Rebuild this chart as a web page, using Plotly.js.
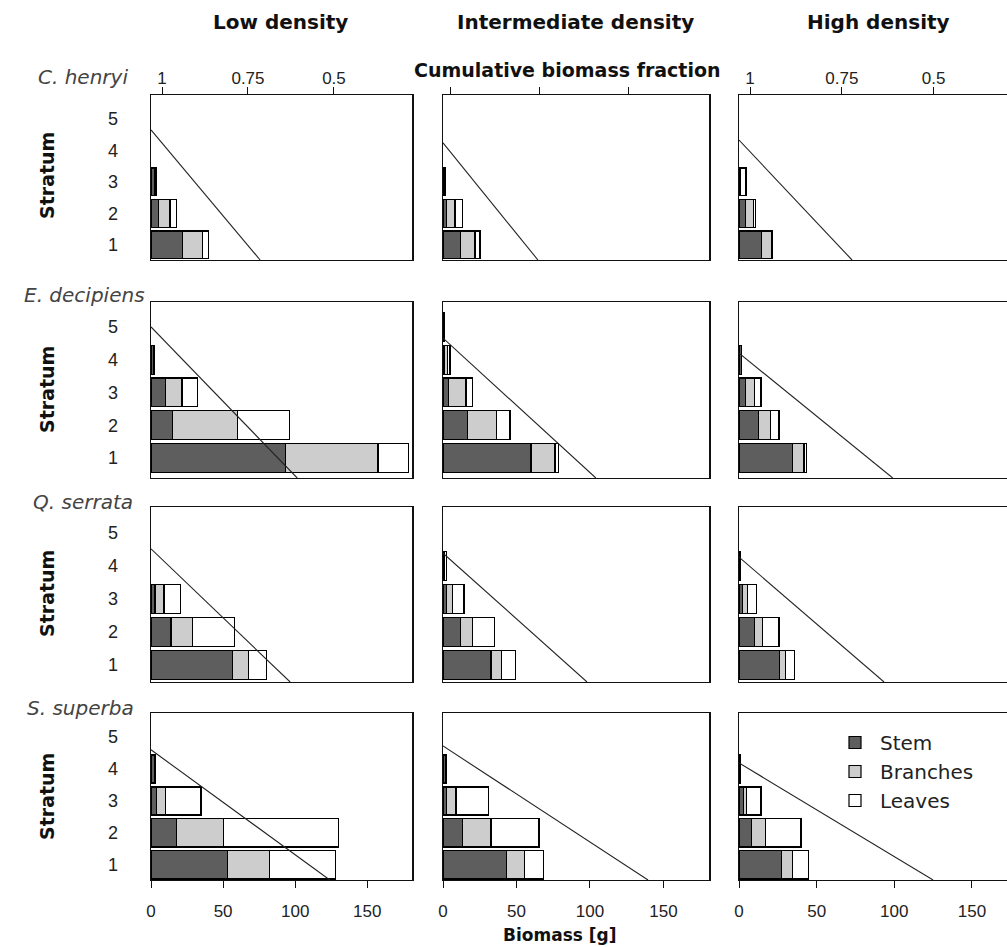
<!DOCTYPE html>
<html><head><meta charset="utf-8">
<script src="https://cdn.plot.ly/plotly-3.0.1.min.js"></script>
<style>html,body{margin:0;padding:0;background:#fff;overflow:hidden}</style>
</head><body><div id="chart" style="width:1007px;height:947px"></div>
<script>
const strata = [1, 2, 3, 4, 5];
const densities = ['Low density', 'Intermediate density', 'High density'];
const species = ['C. henryi', 'E. decipiens', 'Q. serrata', 'S. superba'];
const parts = ['Stem', 'Branches', 'Leaves'];
const xTicks = [0, 50, 100, 150];
const fracTicks = [1, 0.75, 0.5];
const fracTickText = ['1', '0.75', '0.5'];

// biomass [g] per stratum 1..5, one row per density (low, intermediate, high)
const henryiStem      = [[21.7, 5.1, 2.5, 0, 0], [12.0, 2.5, 0.3, 0, 0], [14.6, 4.3, 0.5, 0, 0]];
const henryiBranches  = [[13.9, 8.1, 0.8, 0, 0], [9.8, 5.7, 0.5, 0, 0], [6.4, 4.9, 0.5, 0, 0]];
const henryiLeaves    = [[4.2, 4.6, 0.7, 0, 0], [3.4, 4.8, 1.0, 0, 0], [0.5, 1.5, 3.5, 0, 0]];

const decipiensStem     = [[93.0, 14.8, 10.2, 2.0, 0], [59.9, 16.6, 3.6, 1.0, 1.0], [34.6, 12.4, 4.3, 1.7, 0]];
const decipiensBranches = [[64.4, 45.2, 11.3, 0.2, 0], [16.3, 19.9, 12.0, 2.3, 0], [7.3, 8.0, 5.6, 0, 0]];
const decipiensLeaves   = [[21.3, 36.0, 10.5, 0.1, 0], [2.2, 9.1, 4.6, 1.5, 0], [1.7, 5.4, 4.3, 0, 0]];

const serrataStem     = [[56.7, 13.9, 2.8, 0, 0], [32.7, 12.0, 2.5, 0.5, 0], [26.0, 9.9, 2.1, 1.0, 0]];
const serrataBranches = [[10.9, 15.1, 6.2, 0, 0], [7.2, 8.2, 3.8, 0.7, 0], [4.0, 5.1, 3.2, 0, 0]];
const serrataLeaves   = [[12.3, 28.9, 11.6, 0, 0], [9.5, 14.7, 8.0, 1.3, 0], [5.6, 10.8, 6.1, 0, 0]];

const superbaStem     = [[53.2, 17.8, 4.0, 2.8, 0], [43.3, 13.1, 2.5, 2.0, 0], [27.5, 8.2, 2.8, 0.8, 0]];
const superbaBranches = [[29.0, 32.4, 6.2, 0, 0], [12.0, 19.6, 6.3, 0, 0], [7.1, 9.0, 2.2, 0, 0]];
const superbaLeaves   = [[45.6, 79.8, 24.5, 0, 0], [12.9, 32.6, 22.0, 0, 0], [10.0, 22.7, 9.2, 0, 0]];

// cumulative biomass fraction line: stratum where it leaves x=0, biomass where it meets the panel bottom
const cumStartStratum = [[4.65, 4.24, 4.33], [5.0, 4.66, 4.2], [4.52, 4.39, 4.27], [4.6, 4.72, 4.19]];
const cumEndBiomass   = [[75.7, 64.6, 72.8], [101.4, 104, 99], [96.5, 98, 93.4], [124, 139.5, 125]];

const speciesParts = [
  [henryiStem, henryiBranches, henryiLeaves],
  [decipiensStem, decipiensBranches, decipiensLeaves],
  [serrataStem, serrataBranches, serrataLeaves],
  [superbaStem, superbaBranches, superbaLeaves]
];

// ---- layout geometry (pixels) ----
const W = 1007, H = 947;
const colPx = [[151, 412], [443, 709], [739, 1007]];
const rowPx = [[95, 260], [302, 478], [507, 682], [713, 880]];
const colRange = [[0, 181], [0, 181], [0, 172.6]];
const fracRange = [[1.032, 0.273], [1.022, 0.275], [1.03, 0.30]];
const rowYRange = [[0.52, 5.76], [0.39, 5.76], [0.48, 5.79], [0.53, 5.75]];
const fills = ['#5e5e5e', '#cdcdcd', '#ffffff'];

const tickFont = {family: 'Liberation Sans, Arial, sans-serif', size: 17, color: '#222'};
const traces = [];
const layout = {
  width: W, height: H,
  margin: {l: 0, r: 0, t: 0, b: 0},
  paper_bgcolor: '#fff', plot_bgcolor: '#fff',
  barmode: 'stack',
  showlegend: true,
  legend: {x: 830 / W, y: 1 - 723 / H, xanchor: 'left', yanchor: 'top', itemwidth: 40,
           bgcolor: 'rgba(0,0,0,0)', font: {family: 'DejaVu Sans, sans-serif', size: 20, color: '#222'},
           traceorder: 'normal'},
  annotations: []
};

for (let r = 0; r < 4; r++) {
  for (let c = 0; c < 3; c++) {
    const n = r * 3 + c + 1;
    const xa = 'x' + (n === 1 ? '' : n), ya = 'y' + (n === 1 ? '' : n);
    const xKey = 'xaxis' + (n === 1 ? '' : n), yKey = 'yaxis' + (n === 1 ? '' : n);
    layout[xKey] = {
      domain: [colPx[c][0] / W, colPx[c][1] / W],
      range: colRange[c], anchor: ya,
      showgrid: false, zeroline: false, showline: true, linecolor: '#111', linewidth: 1, mirror: true,
      tickvals: xTicks, ticks: r === 3 ? 'outside' : '', ticklen: 7, tickcolor: '#111',
      showticklabels: r === 3, tickfont: tickFont, ticklabelstandoff: 9, fixedrange: true
    };
    layout[yKey] = {
      domain: [1 - rowPx[r][1] / H, 1 - rowPx[r][0] / H],
      range: rowYRange[r], anchor: xa,
      showgrid: false, zeroline: false, showline: true, linecolor: '#111', linewidth: 1.5,
      mirror: c < 2,
      tickvals: strata, ticks: c === 0 ? 'outside' : '', ticklen: 28, tickcolor: 'rgba(0,0,0,0)',
      showticklabels: c === 0, tickfont: {family: 'Liberation Sans, Arial, sans-serif', size: 18, color: '#222'},
      fixedrange: true
    };
    for (let p = 0; p < 3; p++) {
      const vals = speciesParts[r][p][c].map(v => v > 0 ? v : null);
      traces.push({
        type: 'bar', orientation: 'h', x: vals, y: strata, width: 0.88,
        xaxis: xa, yaxis: ya, name: parts[p],
        marker: {color: fills[p], line: {color: '#000', width: 1.2}},
        showlegend: n === 1, legendgroup: parts[p], hoverinfo: 'x+name'
      });
    }
    traces.push({
      type: 'scatter', mode: 'lines', xaxis: xa, yaxis: ya,
      x: [0, cumEndBiomass[r][c]], y: [cumStartStratum[r][c], rowYRange[r][0]],
      line: {color: '#222', width: 1.1}, showlegend: false, hoverinfo: 'skip'
    });
  }
}

// top "cumulative biomass fraction" axes on the first row
for (let c = 0; c < 3; c++) {
  const n = 13 + c;
  const base = 'x' + (c === 0 ? '' : c + 1);
  layout['xaxis' + n] = {
    overlaying: base, side: 'top', anchor: 'y' + (c === 0 ? '' : c + 1),
    range: fracRange[c], showgrid: false, zeroline: false, showline: true, linecolor: '#111',
    tickvals: fracTicks, ticktext: fracTickText, ticks: 'outside', ticklen: 7, tickcolor: '#111',
    showticklabels: c !== 1, tickfont: tickFont, ticklabelstandoff: -4, fixedrange: true
  };
  traces.push({type: 'scatter', mode: 'none', x: [1], y: [1], xaxis: 'x' + n, yaxis: 'y' + (c === 0 ? '' : c + 1),
               showlegend: false, hoverinfo: 'skip'});
}

const bold = (t, x, y, size, angle) => ({
  text: '<b>' + t + '</b>', x: x / W, y: 1 - y / H, xref: 'paper', yref: 'paper',
  xanchor: 'center', yanchor: 'middle', showarrow: false, textangle: angle || 0,
  font: {family: 'DejaVu Sans, sans-serif', size: size, color: '#111'}
});
const headerX = [280, 575, 878];
densities.forEach((d, i) => layout.annotations.push(bold(d, headerX[i], 22, 20)));
layout.annotations.push(bold('Cumulative biomass fraction', 567, 70, 19));
layout.annotations.push(bold('Biomass [g]', 560, 935, 17));
const stratumY = [176, 390, 594, 797];
stratumY.forEach(y => layout.annotations.push(bold('Stratum', 47, y, 19, -90)));
const spRight = [130, 147, 135, 136];
const spY = [77, 295, 502, 708];
species.forEach((s, i) => layout.annotations.push({
  text: '<i>' + s + '</i>', x: spRight[i] / W, y: 1 - spY[i] / H, xref: 'paper', yref: 'paper',
  xanchor: 'right', yanchor: 'middle', showarrow: false,
  font: {family: 'DejaVu Sans, sans-serif', size: 20, color: '#444'}
}));

Plotly.newPlot('chart', traces, layout, {displayModeBar: false, staticPlot: true});
</script></body></html>
